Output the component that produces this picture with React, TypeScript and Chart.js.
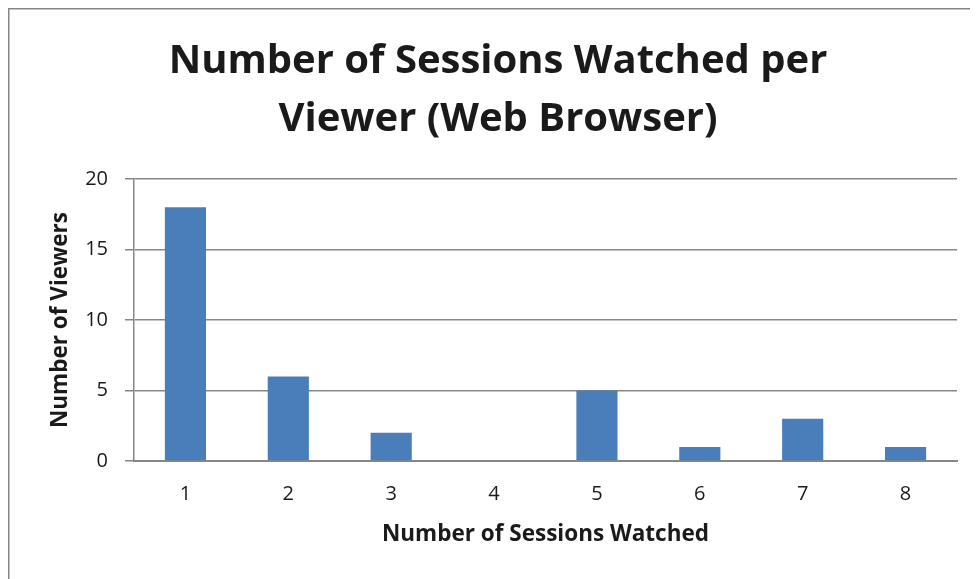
import React, { useEffect, useRef } from "react";
import { Chart, registerables } from "chart.js";

Chart.register(...registerables);

const categories = ["1", "2", "3", "4", "5", "6", "7", "8"];
const viewers = [18, 6, 2, 0, 5, 1, 3, 1];
const titleLines = ["Number of Sessions Watched per", "Viewer (Web Browser)"];
const xTitle = "Number of Sessions Watched";
const yTitle = "Number of Viewers";

const FONT = "'Open Sans', sans-serif";
const TEXT = "#1a1a1a";
const GRID = "#878787";

const borderPlugin = {
  id: "outerBorder",
  beforeDraw(chart: any) {
    const { ctx, width, height } = chart;
    ctx.save();
    ctx.fillStyle = "#ffffff";
    ctx.fillRect(0, 0, width, height);
    ctx.strokeStyle = "#858585";
    ctx.lineWidth = 1.5;
    ctx.strokeRect(0.75, 0.75, width + 10, height + 10);
    ctx.restore();
  },
};

export default function App() {
  const ref = useRef<HTMLCanvasElement | null>(null);

  useEffect(() => {
    document.documentElement.style.overflow = "hidden";
    document.body.style.overflow = "hidden";
    const canvas = ref.current;
    if (!canvas) return;
    const chart = new Chart(canvas, {
      type: "bar",
      data: {
        labels: categories,
        datasets: [
          {
            data: viewers,
            backgroundColor: "#4a7ebb",
            borderWidth: 0,
            barPercentage: 0.4,
            categoryPercentage: 1,
          },
        ],
      },
      options: {
        animation: false,
        responsive: false,
        maintainAspectRatio: false,
        layout: { padding: { left: 31, right: 31, top: 0, bottom: 20 } },
        plugins: {
          legend: { display: false },
          tooltip: { enabled: false },
          title: {
            display: true,
            text: titleLines,
            color: TEXT,
            font: { family: FONT, size: 40, weight: "bold", lineHeight: 1.45 },
            padding: { top: 25, bottom: 30 },
          },
        },
        scales: {
          x: {
            grid: { display: false, drawTicks: false },
            border: { display: true, color: GRID, width: 2 },
            ticks: {
              color: TEXT,
              font: { family: FONT, size: 20 },
              padding: 21,
            },
            title: {
              display: true,
              text: xTitle,
              color: TEXT,
              font: { family: FONT, size: 22.5, weight: "bold", lineHeight: 1.2 },
              padding: { top: 0, bottom: 11 },
            },
            afterFit(scale: any) {
              scale.height = 98;
            },
          },
          y: {
            min: 0,
            max: 20,
            ticks: {
              stepSize: 5,
              color: TEXT,
              font: { family: FONT, size: 20 },
              padding: 17,
            },
            grid: { color: GRID, lineWidth: 1.5, tickLength: 9, drawTicks: true },
            border: { display: true, color: GRID, width: 1.5 },
            title: {
              display: true,
              text: yTitle,
              color: TEXT,
              font: { family: FONT, size: 22.5, weight: "bold", lineHeight: 1.2 },
              padding: { top: 8, bottom: 0 },
            },
            afterFit(scale: any) {
              scale.width = 95;
            },
          },
        },
      },
      plugins: [borderPlugin],
    });
    return () => chart.destroy();
  }, []);

  return (
    <div style={{ width: 980, height: 571 }}>
      <canvas ref={ref} width={980} height={571} style={{ display: "block" }} />
    </div>
  );
}
